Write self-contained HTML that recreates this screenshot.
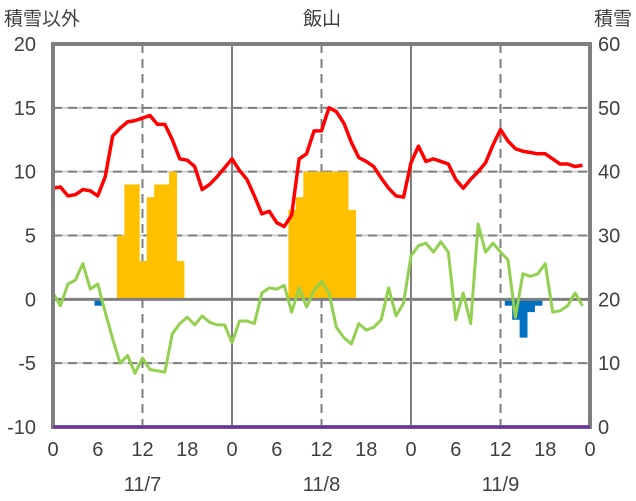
<!DOCTYPE html>
<html><head><meta charset="utf-8"><style>
body{margin:0;background:#fff;}
svg{display:block;font-family:"Liberation Sans","Noto Sans CJK JP",sans-serif;}
</style></head><body>
<svg id="chart" width="636" height="501"></svg>
<script>
const hours=[];for(let i=0;i<72;i++)hours.push(i);
const tempRed=[8.7,8.8,8.1,8.2,8.6,8.5,8.1,9.6,12.8,13.4,13.9,14.0,14.2,14.4,13.7,13.7,12.5,11.0,10.9,10.4,8.6,9.0,9.6,10.3,
11.0,10.1,9.4,8.1,6.7,6.9,6.0,5.7,6.6,11.0,11.4,13.2,13.2,15.0,14.7,13.8,12.3,11.1,10.8,10.4,9.5,8.7,8.1,8.0,
10.7,12.0,10.8,11.0,10.8,10.6,9.4,8.7,9.4,10.0,10.7,12.1,13.3,12.4,11.8,11.6,11.5,11.4,11.4,11.0,10.6,10.6,10.4,10.5];
const tempGreen=[0.5,-0.5,1.2,1.5,2.8,0.8,1.2,-1.0,-3.1,-5.0,-4.4,-5.8,-4.6,-5.5,-5.6,-5.7,-2.7,-1.9,-1.4,-2.0,-1.3,-1.8,-2.0,-2.0,
-3.4,-1.7,-1.7,-1.9,0.5,0.9,0.8,1.1,-1.0,0.9,-0.6,0.7,1.4,0.5,-2.2,-3.0,-3.5,-1.9,-2.4,-2.2,-1.6,0.9,-1.3,-0.3,
3.4,4.2,4.4,3.7,4.5,3.7,-1.6,0.5,-1.9,5.9,3.7,4.4,3.7,3.1,-1.4,2.0,1.8,2.0,2.8,-1.0,-0.9,-0.5,0.5,-0.5];
const orangeHours=[9,10,11,12,13,14,15,16,17,32,33,34,35,36,37,38,39,40];
const orangeVals=[5,9,9,3,8,9,9,10,3,7,8,10,10,10,10,10,10,7];
const blueHours=[6,61,62,63,64,65];
const blueVals=[-0.5,-0.5,-1.6,-3.0,-1.0,-0.5];
const snowDepth=[];for(let i=0;i<=72;i++)snowDepth.push(0);
const leftTicks=[20,15,10,5,0,-5,-10];
const rightTicks=[60,50,40,30,20,10,0];
const xTickHours=[0,6,12,18,24,30,36,42,48,54,60,66,72];
const xTickLabels=["0","6","12","18","0","6","12","18","0","6","12","18","0"];
const dateLabels=["11/7","11/8","11/9"];
const dateHours=[12,36,60];

const X0=53,X1=590,Y0=44,Y1=427;
const xs=h=>X0+(X1-X0)*h/72;
const yl=v=>Y0+(Y1-Y0)*(20-v)/30;
const yr=v=>Y0+(Y1-Y0)*(60-v)/60;
const svg=document.getElementById('chart');
const NS='http://www.w3.org/2000/svg';
function mk(tag,at,parent){const e=document.createElementNS(NS,tag);for(const k in at)e.setAttribute(k,at[k]);(parent||svg).appendChild(e);return e;}

[15,10,5,-5].forEach(v=>{
  mk('line',{x1:X0,x2:X1,y1:yl(v),y2:yl(v),stroke:'#d0d0d0','stroke-width':2});
  const g=mk('line',{x1:X0,x2:X1,y1:yl(v),y2:yl(v),stroke:'#7f7f7f','stroke-width':2,'stroke-dasharray':'9,6'});
  
  
});
[12,36,60].forEach(h=>{
  const g=mk('line',{x1:xs(h),x2:xs(h),y1:Y0,y2:Y1,stroke:'#7f7f7f','stroke-width':2,'stroke-dasharray':'9,6'});
  
  
});
[24,48].forEach(h=>{
  const g=mk('line',{x1:xs(h),x2:xs(h),y1:Y0,y2:Y1,stroke:'#7f7f7f','stroke-width':2});
  
  
});
const bw=(X1-X0)/72;
orangeHours.forEach((h,i)=>{
  const v=orangeVals[i];
  const r=mk('rect',{x:xs(h)-bw/2+0.5,y:yl(v),width:bw+0.4,height:yl(0)-yl(v),fill:'#ffc000'});
  
  
});
blueHours.forEach((h,i)=>{
  const v=blueVals[i];
  const r=mk('rect',{x:xs(h)-bw/2+0.5,y:yl(0),width:bw+0.4,height:yl(v)-yl(0),fill:'#0070c0'});
  
  
});
const z=mk('line',{x1:X0,x2:X1,y1:yl(0),y2:yl(0),stroke:'#7f7f7f','stroke-width':3});


function line(vals,color,w,name){
  const p=mk('polyline',{points:vals.map((v,i)=>xs(hours[i])+','+yl(v)).join(' '),fill:'none',stroke:color,'stroke-width':w,'stroke-linejoin':'round'});
  
  
}
line(tempGreen,'#92d050',3,'series-green');
line(tempRed,'#ff0000',3.5,'series-red');
const fr=mk('rect',{x:X0,y:Y0,width:X1-X0,height:Y1-Y0,fill:'none',stroke:'#7f7f7f','stroke-width':4});


const sd=mk('polyline',{points:snowDepth.map((v,i)=>xs(i)+','+yr(v)).join(' '),fill:'none',stroke:'#7030a0','stroke-width':3});


leftTicks.forEach(v=>{
  const t=mk('text',{x:36,y:yl(v)+7,'text-anchor':'end','font-size':20,fill:'#404040'});t.textContent=v;
  
  
});
rightTicks.forEach((v,i)=>{
  const t=mk('text',{x:598,y:yl(leftTicks[i])+7,'font-size':20,fill:'#404040'});t.textContent=v;
  
  
});
xTickHours.forEach((h,i)=>{
  const t=mk('text',{x:xs(h),y:456,'text-anchor':'middle','font-size':20,fill:'#404040'});t.textContent=xTickLabels[i];
  
  
});
dateHours.forEach((h,i)=>{
  const t=mk('text',{x:xs(h),y:491,'text-anchor':'middle','font-size':20,fill:'#404040'});t.textContent=dateLabels[i];
  
  
});
function txt(s,x,y,anchor,name){const t=mk('text',{x:x,y:y,'text-anchor':anchor,'font-size':19,fill:'#404040'});t.textContent=s;
  
  }
txt('積雪以外',4,25,'start','y-left-title');
txt('飯山',322,25,'middle','chart-title');
txt('積雪',632,25,'end','y-right-title');
</script>
</body></html>
